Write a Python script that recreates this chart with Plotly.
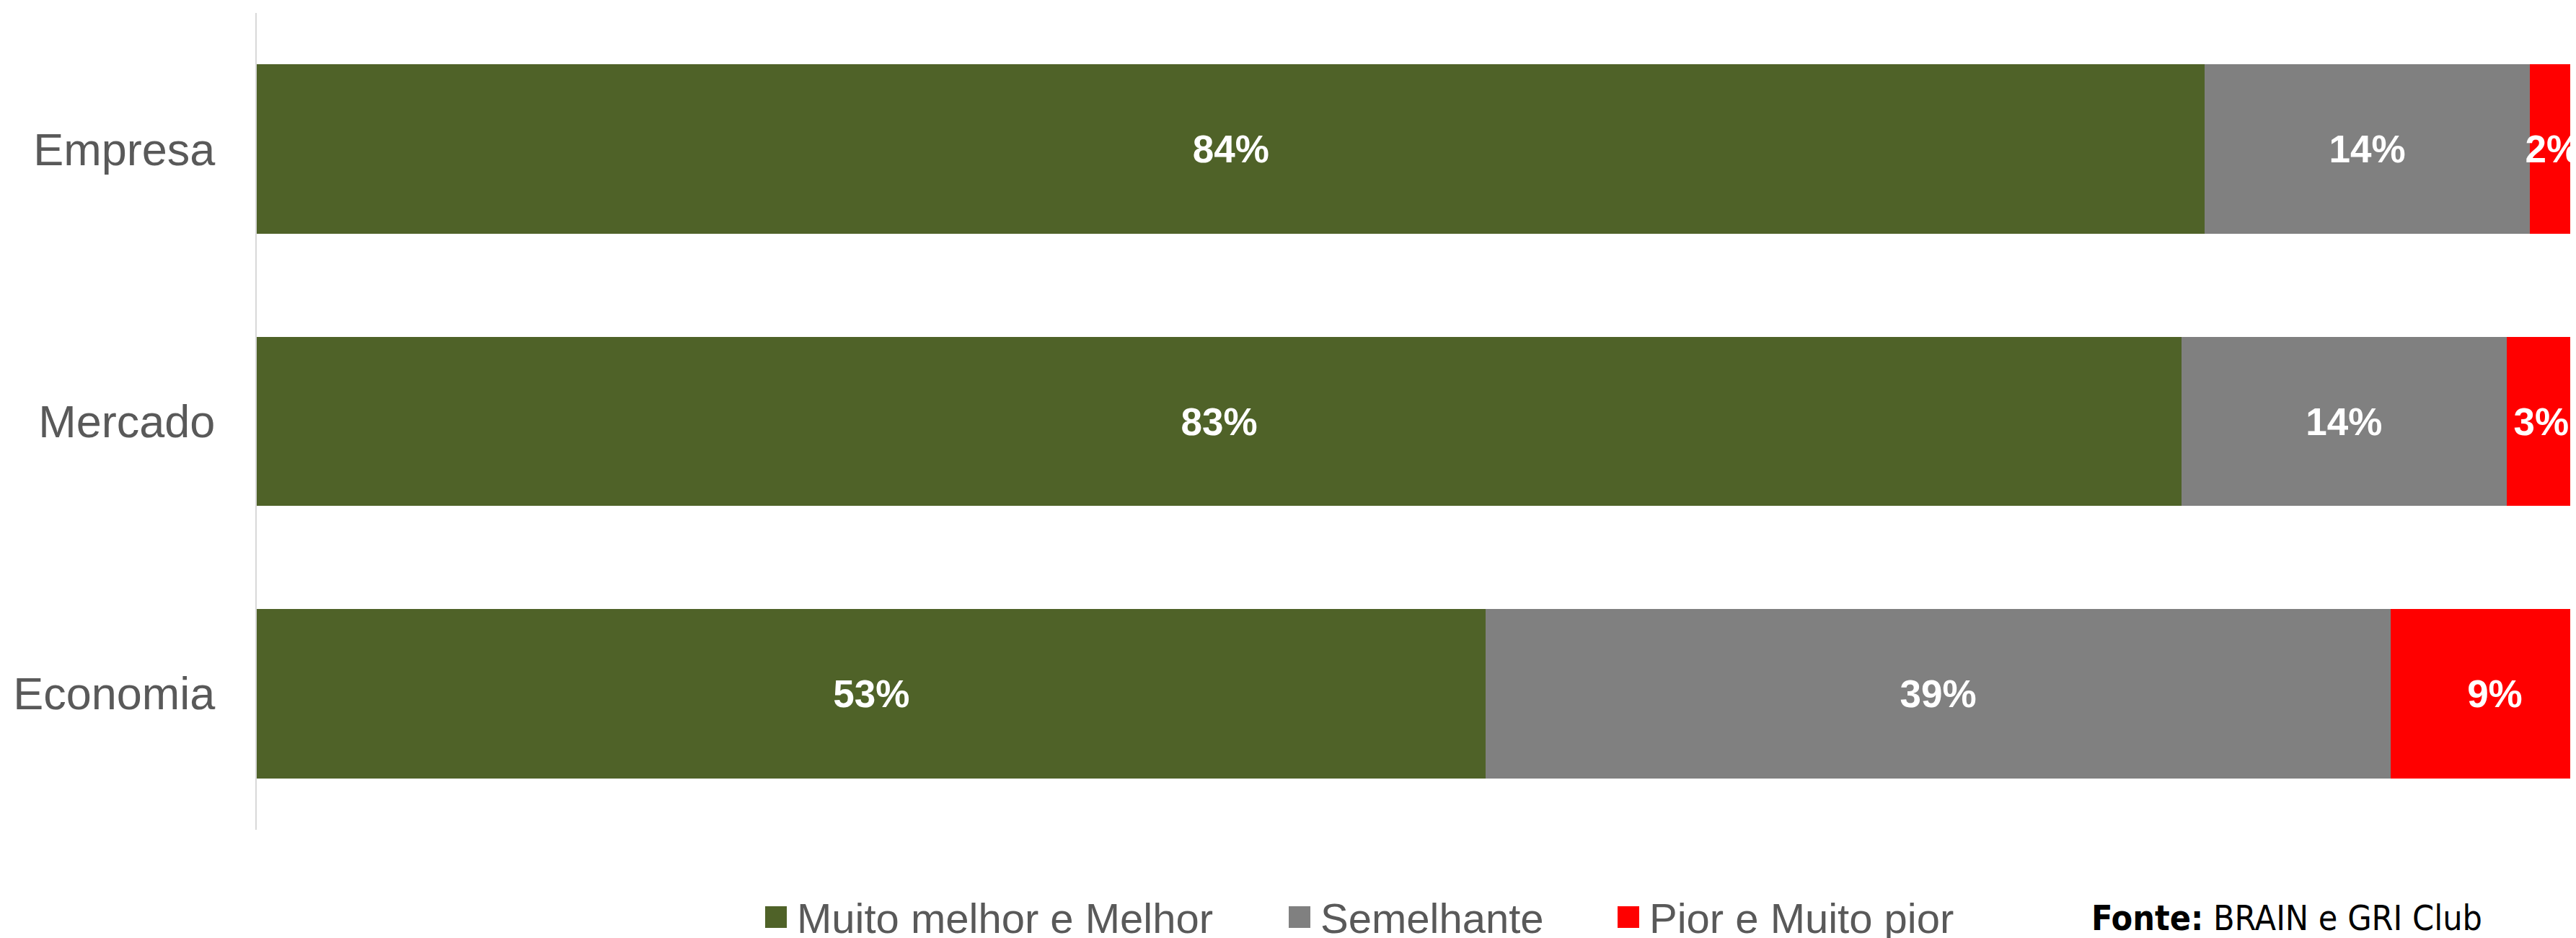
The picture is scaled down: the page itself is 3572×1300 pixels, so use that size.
import plotly.graph_objects as go

categories = ["Empresa", "Mercado", "Economia"]
series_names = ["Muito melhor e Melhor", "Semelhante", "Pior e Muito pior"]
muito_melhor = [84, 83, 53]
semelhante = [14, 14, 39]
pior = [2, 3, 9]
series_values = [muito_melhor, semelhante, pior]
colors = ["#4F6228", "#808080", "#FF0000"]
source_bold = "Fonte:"
source_text = "BRAIN e GRI Club"

OFF = 8  # page body margin
W, H = 3572 - OFF, 1300 - OFF
ML, MR, MT, MB = 348, 0, 10, 150
PW, PH = W - ML - MR, H - MT - MB


def px_x(p):
    return (p - OFF - ML) / PW


def px_y(p):
    return (H - MB - (p - OFF)) / PH


fig = go.Figure()
for name, vals, col in zip(series_names, series_values, colors):
    fig.add_trace(go.Bar(
        y=categories, x=vals, name=name, orientation="h",
        marker=dict(color=col, line=dict(width=0)),
        texttemplate="%{x}%", textposition="inside", insidetextanchor="middle",
        constraintext="none", textangle=0,
        textfont=dict(family="Liberation Sans, Arial", size=53, color="white", weight="bold"),
        showlegend=False, hoverinfo="skip",
    ))

# legend drawn as swatches + labels
leg_swatch_x = [1061, 1787, 2243]
leg_y = 1271
for name, col, sx in zip(series_names, colors, leg_swatch_x):
    fig.add_shape(type="rect", xref="paper", yref="paper",
                  x0=px_x(sx), x1=px_x(sx + 30), y0=px_y(leg_y - 15), y1=px_y(leg_y + 15),
                  fillcolor=col, line=dict(width=0))
    fig.add_annotation(xref="paper", yref="paper", x=px_x(sx + 42), y=px_y(leg_y + 1),
                       xanchor="left", yanchor="middle", showarrow=False, text=name,
                       font=dict(family="Liberation Sans, Arial", size=58, color="#595959"))

fig.add_annotation(xref="paper", yref="paper", x=px_x(2898), y=px_y(leg_y + 1),
                   xanchor="left", yanchor="middle", showarrow=False,
                   text=f"<b>{source_bold}</b> {source_text}",
                   font=dict(family="DejaVu Sans Condensed, DejaVu Sans", size=48, color="black"))

fig.update_layout(
    width=W, height=H, barmode="stack", bargap=0.378,
    margin=dict(l=ML, r=MR, t=MT, b=MB, pad=0),
    paper_bgcolor="white", plot_bgcolor="white",
    xaxis=dict(visible=False, range=[0, 100], fixedrange=True),
    yaxis=dict(categoryorder="array", categoryarray=categories, autorange="reversed",
               showline=True, linecolor="#D9D9D9", linewidth=2, showgrid=False,
               zeroline=False, ticks="", ticklabelstandoff=43,
               tickfont=dict(family="Liberation Sans, Arial", size=63, color="#595959")),
)

fig.write_html("out.html")
